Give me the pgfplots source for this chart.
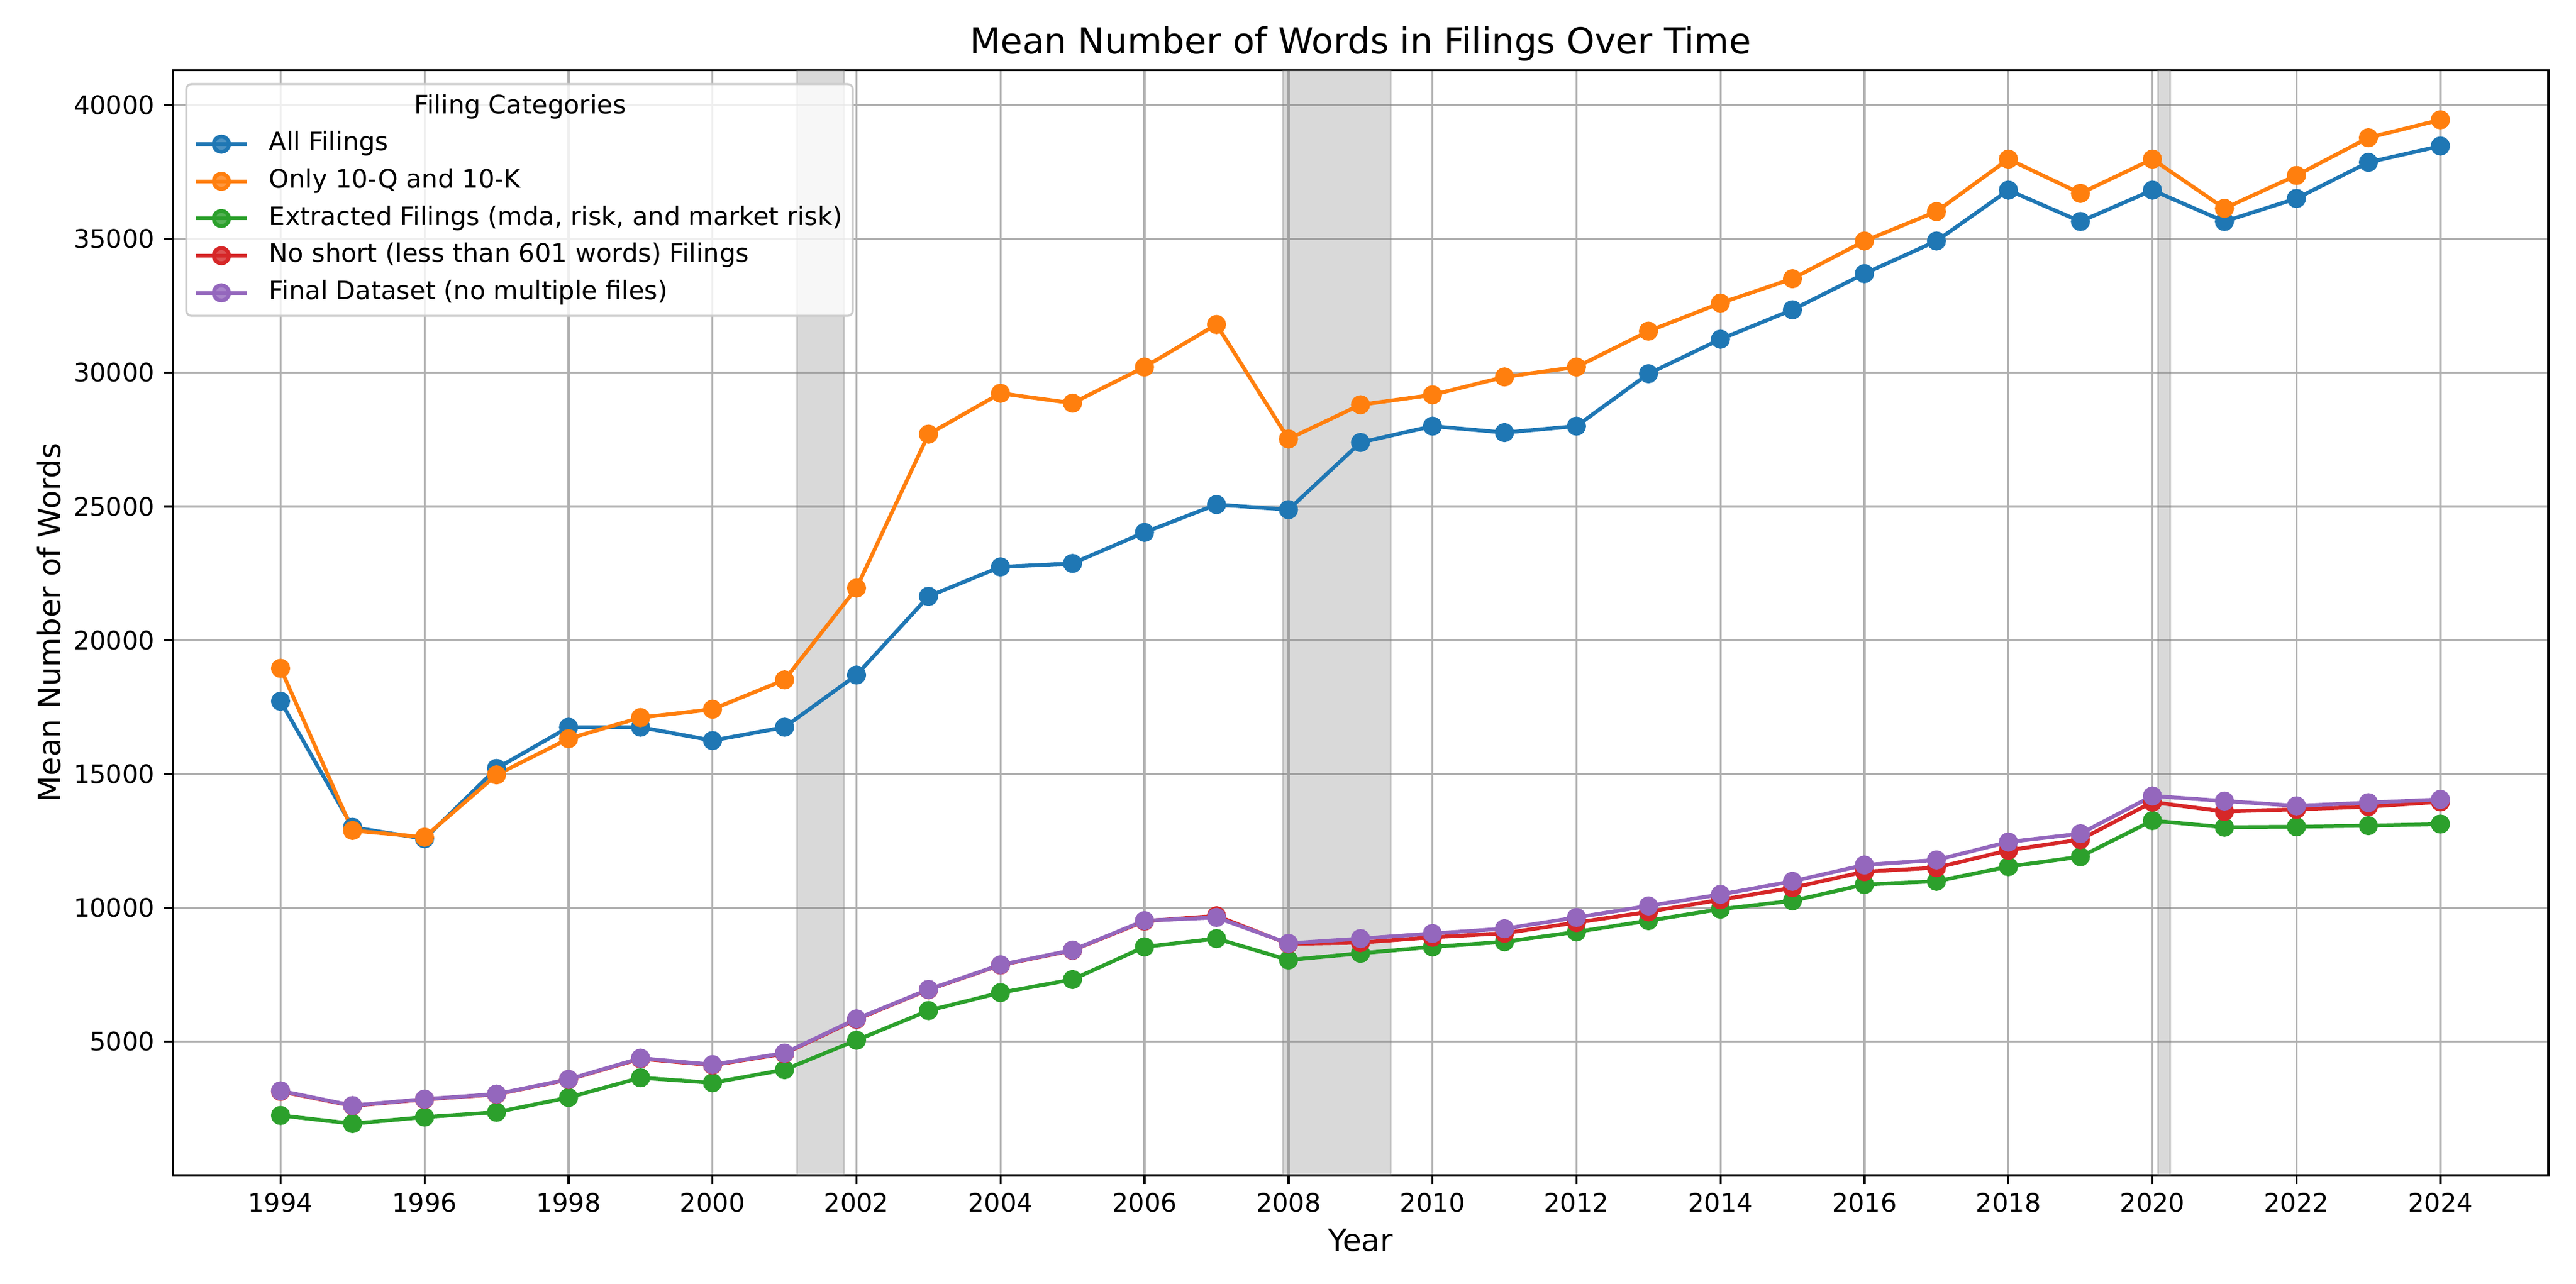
\documentclass[border=0pt]{standalone}
\usepackage{fontspec}
\setmainfont{DejaVu Sans}
\usepackage{pgfplots}
\pgfplotsset{compat=1.18}

\definecolor{cblue}{HTML}{1F77B4}
\definecolor{corange}{HTML}{FF7F0E}
\definecolor{cgreen}{HTML}{2CA02C}
\definecolor{cred}{HTML}{D62728}
\definecolor{cpurple}{HTML}{9467BD}
\definecolor{gridgray}{HTML}{B0B0B0}
\definecolor{legedge}{HTML}{CCCCCC}

\newlength\legw

\begin{document}
\settowidth{\legw}{\fontsize{10}{12}\selectfont Extracted Filings (mda, risk, and market risk)}
\begin{tikzpicture}
\begin{axis}[
  at={(0,0)}, anchor=south west,
  scale only axis,
  width=932.6pt, height=433.9pt,
  xmin=1992.5, xmax=2025.5,
  ymin=0, ymax=41300,
  xtick={1994,1996,...,2024},
  ytick={5000,10000,...,40000},
  /pgf/number format/1000 sep={},
  /pgf/number format/assume math mode=true,
  scaled y ticks=false,
  tick label style={font=\fontsize{10}{12}\selectfont},
  tick align=outside,
  major tick length=3.5pt,
  xtick pos=bottom, ytick pos=left,
  tick style={black, line width=0.8pt},
  axis line style={black, line width=0.8pt},
  grid=major,
  major grid style={gridgray, line width=0.8pt},
  title={Mean Number of Words in Filings Over Time},
  title style={font=\fontsize{14}{17}\selectfont, at={(axis description cs:0.5,1)}, anchor=base, yshift=0.5pt},
  xlabel={Year},
  xlabel style={font=\fontsize{12}{14}\selectfont, at={(axis description cs:0.5,0)}, anchor=center, yshift=-25.5pt},
  ylabel={Mean Number of Words},
  ylabel style={font=\fontsize{12}{14}\selectfont, at={(axis description cs:0,0.5)}, anchor=center, yshift=48.5pt},
  every axis plot/.append style={line width=1.5pt, mark=*, mark size=3pt, mark options={solid}},
  legend cell align=left,
  legend image code/.code={\draw[mark repeat=2, mark phase=2] plot coordinates {(0pt,0pt) (10pt,0pt) (20pt,0pt)};},
  legend style={
    at={(axis description cs:0,1)}, anchor=north west, xshift=5pt, yshift=-5pt,
    font=\fontsize{10}{12}\selectfont,
    draw=legedge, line width=0.8pt, rounded corners=2pt,
    fill=white, fill opacity=0.8, text opacity=1,
    inner sep=3pt, row sep=2.6pt, column sep=7pt,
    nodes={inner sep=1pt, text height=7.6pt, text depth=2.4pt},
  },
]

% recession bands
\addplot[draw=gray, draw opacity=0.3, line width=0.8pt, fill=gray, fill opacity=0.3, mark=none, forget plot]
  coordinates {(2001.17,0) (2001.83,0) (2001.83,41300) (2001.17,41300)} \closedcycle;
\addplot[draw=gray, draw opacity=0.3, line width=0.8pt, fill=gray, fill opacity=0.3, mark=none, forget plot]
  coordinates {(2007.92,0) (2009.42,0) (2009.42,41300) (2007.92,41300)} \closedcycle;
\addplot[draw=gray, draw opacity=0.3, line width=0.8pt, fill=gray, fill opacity=0.3, mark=none, forget plot]
  coordinates {(2020.08,0) (2020.25,0) (2020.25,41300) (2020.08,41300)} \closedcycle;

\addlegendimage{empty legend}
\addlegendentry{\hspace*{-14pt}\makebox[\legw][c]{Filing Categories}}

\addplot[cblue, mark options={fill=cblue, draw=cblue}] coordinates {
 (1994,17720) (1995,13010) (1996,12580) (1997,15210) (1998,16750) (1999,16750)
 (2000,16250) (2001,16750) (2002,18700) (2003,21640) (2004,22740) (2005,22870)
 (2006,24030) (2007,25070) (2008,24880) (2009,27390) (2010,28000) (2011,27760)
 (2012,28000) (2013,29960) (2014,31250) (2015,32350) (2016,33700) (2017,34920)
 (2018,36820) (2019,35650) (2020,36820) (2021,35650) (2022,36510) (2023,37860)
 (2024,38470)
};
\addlegendentry{All Filings}

\addplot[corange, mark options={fill=corange, draw=corange}] coordinates {
 (1994,18950) (1995,12890) (1996,12640) (1997,14970) (1998,16320) (1999,17110)
 (2000,17420) (2001,18520) (2002,21950) (2003,27700) (2004,29230) (2005,28860)
 (2006,30210) (2007,31800) (2008,27520) (2009,28800) (2010,29170) (2011,29840)
 (2012,30210) (2013,31550) (2014,32600) (2015,33510) (2016,34920) (2017,36020)
 (2018,37980) (2019,36700) (2020,37980) (2021,36140) (2022,37370) (2023,38780)
 (2024,39450)
};
\addlegendentry{Only 10-Q and 10-K}

\addplot[cgreen, mark options={fill=cgreen, draw=cgreen}] coordinates {
 (1994,2240) (1995,1935) (1996,2180) (1997,2360) (1998,2910) (1999,3650)
 (2000,3460) (2001,3950) (2002,5050) (2003,6160) (2004,6830) (2005,7320)
 (2006,8540) (2007,8850) (2008,8050) (2009,8300) (2010,8540) (2011,8730)
 (2012,9100) (2013,9520) (2014,9950) (2015,10260) (2016,10870) (2017,10990)
 (2018,11540) (2019,11910) (2020,13260) (2021,13010) (2022,13030) (2023,13070)
 (2024,13130)
};
\addlegendentry{Extracted Filings (mda, risk, and market risk)}

\addplot[cred, mark options={fill=cred, draw=cred}] coordinates {
 (1994,3140) (1995,2600) (1996,2840) (1997,3030) (1998,3580) (1999,4360)
 (2000,4120) (2001,4550) (2002,5830) (2003,6940) (2004,7860) (2005,8410)
 (2006,9500) (2007,9700) (2008,8650) (2009,8700) (2010,8900) (2011,9050)
 (2012,9450) (2013,9850) (2014,10300) (2015,10750) (2016,11350) (2017,11500)
 (2018,12150) (2019,12550) (2020,13950) (2021,13600) (2022,13680) (2023,13780)
 (2024,13960)
};
\addlegendentry{No short (less than 601 words) Filings}

\addplot[cpurple, mark options={fill=cpurple, draw=cpurple}] coordinates {
 (1994,3160) (1995,2610) (1996,2850) (1997,3040) (1998,3590) (1999,4380)
 (2000,4140) (2001,4570) (2002,5850) (2003,6950) (2004,7870) (2005,8420)
 (2006,9520) (2007,9640) (2008,8670) (2009,8850) (2010,9040) (2011,9220)
 (2012,9640) (2013,10070) (2014,10500) (2015,10990) (2016,11600) (2017,11790)
 (2018,12460) (2019,12770) (2020,14180) (2021,13990) (2022,13810) (2023,13930)
 (2024,14050)
};
\addlegendentry{Final Dataset (no multiple files)}

\end{axis}
\pgfresetboundingbox
\useasboundingbox (-64.56pt,-42.5pt) rectangle (943.44pt,461.5pt);
\end{tikzpicture}
\end{document}
